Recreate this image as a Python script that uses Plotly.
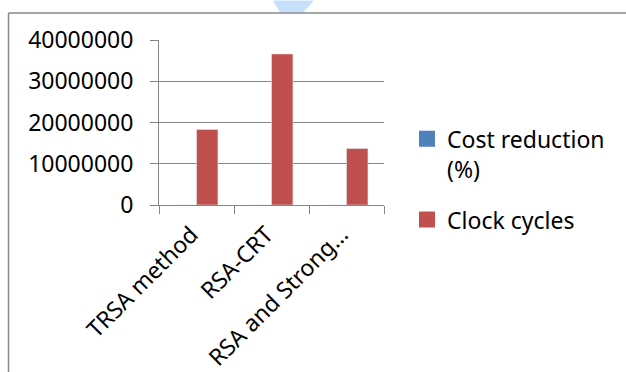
import plotly.graph_objects as go

categories = ["TRSA method", "RSA-CRT", "RSA and Strong…"]
cost_reduction = [0, 0, 0]
clock_cycles = [18300000, 36600000, 13700000]
y_ticks = [0, 10000000, 20000000, 30000000, 40000000]

series = [
    ("Cost reduction<br>(%)", cost_reduction, "#4F81BD"),
    ("Clock cycles", clock_cycles, "#C0504D"),
]

W, H = 626, 372
L, R, T, B = 159, 242, 39.5, 167
PW, PH = W - L - R, H - T - B


def fx(px):
    return (px - L) / PW


def fy(py):
    return 1 - (py - T) / PH


FONT = dict(family="'Noto Sans', 'Open Sans', sans-serif", size=23, color="#000000")
GRID = "#868686"

fig = go.Figure()
for i, (name, values, color) in enumerate(series):
    group = f"s{i}"
    fig.add_trace(go.Bar(x=categories, y=values, name=name, marker=dict(color=color),
                         legendgroup=group, showlegend=False))
    # legend key: larger square swatch tied to the bar series
    fig.add_trace(go.Scatter(x=[None], y=[None], mode="markers", name=name,
                             marker=dict(symbol="square", size=16, color=color),
                             legendgroup=group, showlegend=True))

fig.update_layout(
    width=W, height=H,
    margin=dict(l=L, r=R, t=T, b=B, pad=0, autoexpand=False),
    paper_bgcolor="white", plot_bgcolor="white",
    font=FONT,
    barmode="group", bargap=1.5 / 3.5, bargroupgap=0,
    showlegend=True,
    legend=dict(x=fx(407), y=fy(117), xanchor="left", yanchor="top",
                valign="top", tracegroupgap=18, font=FONT,
                bgcolor="rgba(0,0,0,0)", itemwidth=30),
    xaxis=dict(type="category", tickson="boundaries", ticks="outside", ticklen=8,
               tickcolor=GRID, tickwidth=1, showline=True, linecolor=GRID, linewidth=1,
               showgrid=False, tickangle=-45, tickfont=FONT, range=[-0.5, 2.5],
               automargin=False, ticklabelstandoff=6, ticklabelshift=-5),
    yaxis=dict(range=[0, 40000000], tickvals=y_ticks, tickformat="d",
               ticks="outside", ticklen=8, tickcolor=GRID, tickwidth=1,
               showline=True, linecolor=GRID, linewidth=1,
               showgrid=True, gridcolor=GRID, gridwidth=1, zeroline=False,
               tickfont=FONT, ticklabelstandoff=12, automargin=False),
    shapes=[
        # light blue pointer at the top edge
        dict(type="path", xref="paper", yref="paper",
             path=f"M {fx(273)},{fy(0)} L {fx(314)},{fy(0)} L {fx(303)},{fy(12)} L {fx(280)},{fy(12)} Z",
             fillcolor="#C6E0FB", line=dict(width=0), layer="below"),
        # frame lines
        dict(type="line", xref="paper", yref="paper", x0=fx(8.5), x1=fx(640),
             y0=fy(12.5), y1=fy(12.5), line=dict(color="#888888", width=1.5)),
        dict(type="line", xref="paper", yref="paper", x0=fx(8.5), x1=fx(8.5),
             y0=fy(12.5), y1=fy(380), line=dict(color="#888888", width=1.5)),
    ],
)

fig.write_html("out.html")
